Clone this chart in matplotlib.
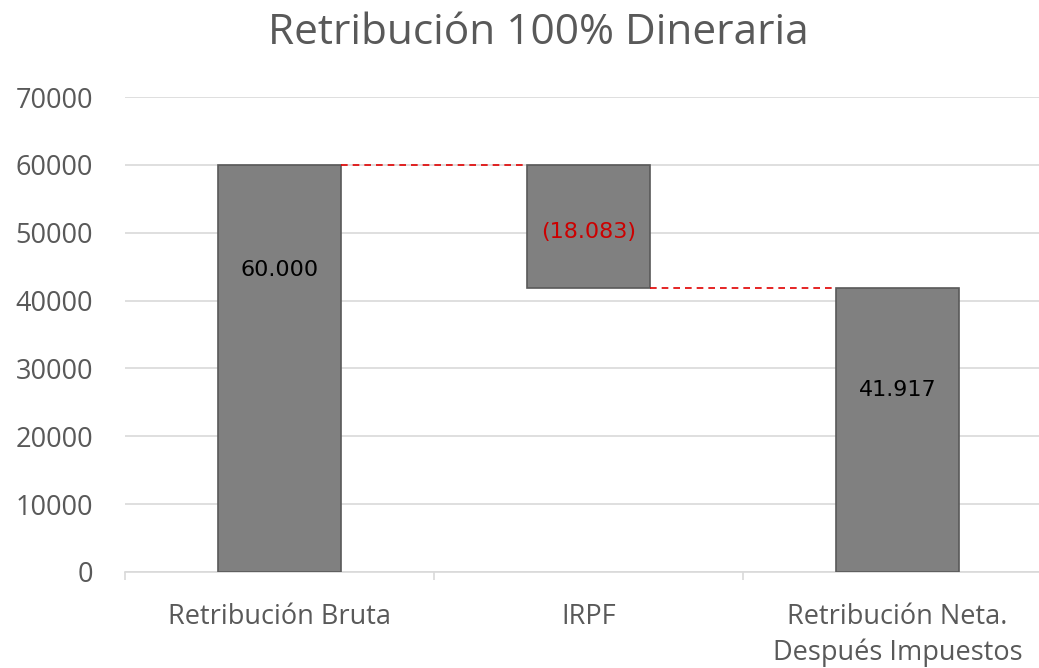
import numpy as np
import matplotlib.pyplot as plt

# datos de la cascada
categorias = ['Retribución Bruta', 'IRPF', 'Retribución Neta.\nDespués Impuestos']
importes = [60000, -18083, 41917]
etiquetas = ['60.000', '(18.083)', '41.917']
colores_etiqueta = ['#000000', '#cc0000', '#000000']
pos_etiqueta = [44500, 50100, 26800]

W, H = 1039, 668
fig = plt.figure(figsize=(W / 100, H / 100), dpi=100)
ax = fig.add_axes([125 / W, (H - 572) / H, 927 / W, 475 / H])

# bases de la cascada
bruto, irpf, neto = importes
bases = [0, bruto + irpf, 0]
alturas = [bruto, -irpf, neto]
x = np.arange(len(categorias))

ax.bar(x, alturas, bottom=bases, width=0.4, color='#808080',
       edgecolor='#595959', linewidth=1.2, zorder=3)

# conectores discontinuos
ax.plot([0.2, 0.8], [bruto, bruto], color='#e00000', ls=(0, (4, 3)), lw=1.2, zorder=4)
ax.plot([1.2, 1.8], [bruto + irpf, bruto + irpf], color='#e00000', ls=(0, (4, 3)), lw=1.2, zorder=4)

for xi, txt, c, yi in zip(x, etiquetas, colores_etiqueta, pos_etiqueta):
    ax.text(xi, yi, txt, ha='center', va='center', color=c, fontsize=16,
            family='DejaVu Sans', zorder=5)

ax.set_xlim(-0.5, 2.5)
ax.set_ylim(0, 70000)
ax.set_yticks(np.arange(0, 70001, 10000))
ax.grid(axis='y', color='#d9d9d9', lw=1.2, zorder=0)
for s in ['left', 'right', 'top']:
    ax.spines[s].set_visible(False)
ax.spines['bottom'].set_color('#d9d9d9')
ax.spines['bottom'].set_linewidth(1.2)

ax.set_xticks(x)
ax.set_xticklabels(categorias, family='Open Sans', fontsize=19.5, color='#595959',
                   linespacing=1.38)
ax.set_xticks([-0.5, 0.5, 1.5, 2.5], minor=True)
ax.tick_params(axis='x', which='major', length=0, pad=22)
ax.tick_params(axis='x', which='minor', length=6, color='#d9d9d9', width=1.2)
ax.tick_params(axis='y', length=0, pad=23, labelsize=19.5, labelcolor='#595959')
for lb in ax.get_yticklabels():
    lb.set_family('Open Sans')

fig.text(538 / W, (H - 33) / H, 'Retribución 100% Dineraria', ha='center', va='center',
         family='Open Sans', fontsize=30.5, color='#595959')

fig.savefig('out.png', dpi=100)
